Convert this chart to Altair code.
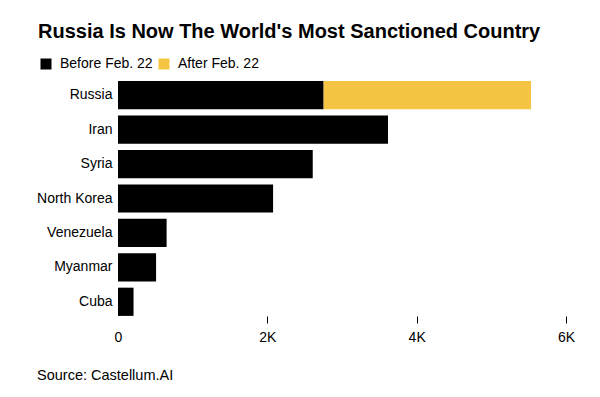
import altair as alt
import pandas as pd

countries = ["Russia", "Iran", "Syria", "North Korea", "Venezuela", "Myanmar", "Cuba"]
before = [2754, 3616, 2608, 2077, 651, 510, 208]
after = [2778, 0, 0, 0, 0, 0, 0]
periods = ["Before Feb. 22", "After Feb. 22"]
colors = ["#000000", "#F5C443"]
ticks = [0, 2000, 4000, 6000]

rows = []
for c, b, a in zip(countries, before, after):
    rows.append({"country": c, "period": periods[0], "value": b, "ord": 0})
    if a:
        rows.append({"country": c, "period": periods[1], "value": a, "ord": 1})
df = pd.DataFrame(rows)

FONT = "Liberation Sans"

bars = alt.Chart(df).mark_bar().encode(
    y=alt.Y("country:N", sort=countries, title=None,
            scale=alt.Scale(paddingInner=0.18, paddingOuter=0.09),
            axis=alt.Axis(ticks=False, domain=False, labelFontSize=14, labelColor="#000000",
                          labelFont=FONT, labelPadding=6)),
    x=alt.X("value:Q", stack="zero", title=None,
            scale=alt.Scale(domain=[0, 6000], nice=False),
            axis=alt.Axis(values=ticks, grid=False, domain=False, tickSize=7, tickColor="#000000",
                          offset=-3, labelFlush=False,
                          tickOpacity={"condition": {"test": "datum.value === 0", "value": 0}, "value": 1},
                          labelExpr="datum.value === 0 ? '0' : (datum.value / 1000) + 'K'",
                          labelFontSize=14, labelFont=FONT, labelColor="#000000", labelPadding=7)),
    color=alt.Color("period:N", scale=alt.Scale(domain=periods, range=colors),
                    legend=alt.Legend(orient="none", legendX=-79, legendY=-21, direction="horizontal",
                                      title=None, symbolType="square", symbolSize=121,
                                      symbolStrokeWidth=0, labelFontSize=14, labelFont=FONT,
                                      labelColor="#000000", labelOffset=7, columnPadding=4,
                                      symbolOpacity=1)),
    order=alt.Order("ord:Q"),
)

title = alt.Chart(pd.DataFrame({"t": ["Russia Is Now The World's Most Sanctioned Country"]})).mark_text(
    align="left", baseline="alphabetic", fontSize=20, fontWeight="bold", font=FONT, color="#000000"
).encode(text="t:N", x=alt.value(-80), y=alt.value(-40))

source = alt.Chart(pd.DataFrame({"t": ["Source: Castellum.AI"]})).mark_text(
    align="left", baseline="alphabetic", fontSize=14.5, font=FONT, color="#000000"
).encode(text="t:N", x=alt.value(-81), y=alt.value(302))

chart = alt.layer(bars, title, source).properties(
    width=448, height=241,
    autosize=alt.AutoSizeParams(type="none"),
    padding={"left": 110, "top": 70, "right": 26, "bottom": 72},
    background="#ffffff",
).configure_view(stroke=None)

chart.save("out.html", embed_options={"renderer": "svg", "actions": False})
